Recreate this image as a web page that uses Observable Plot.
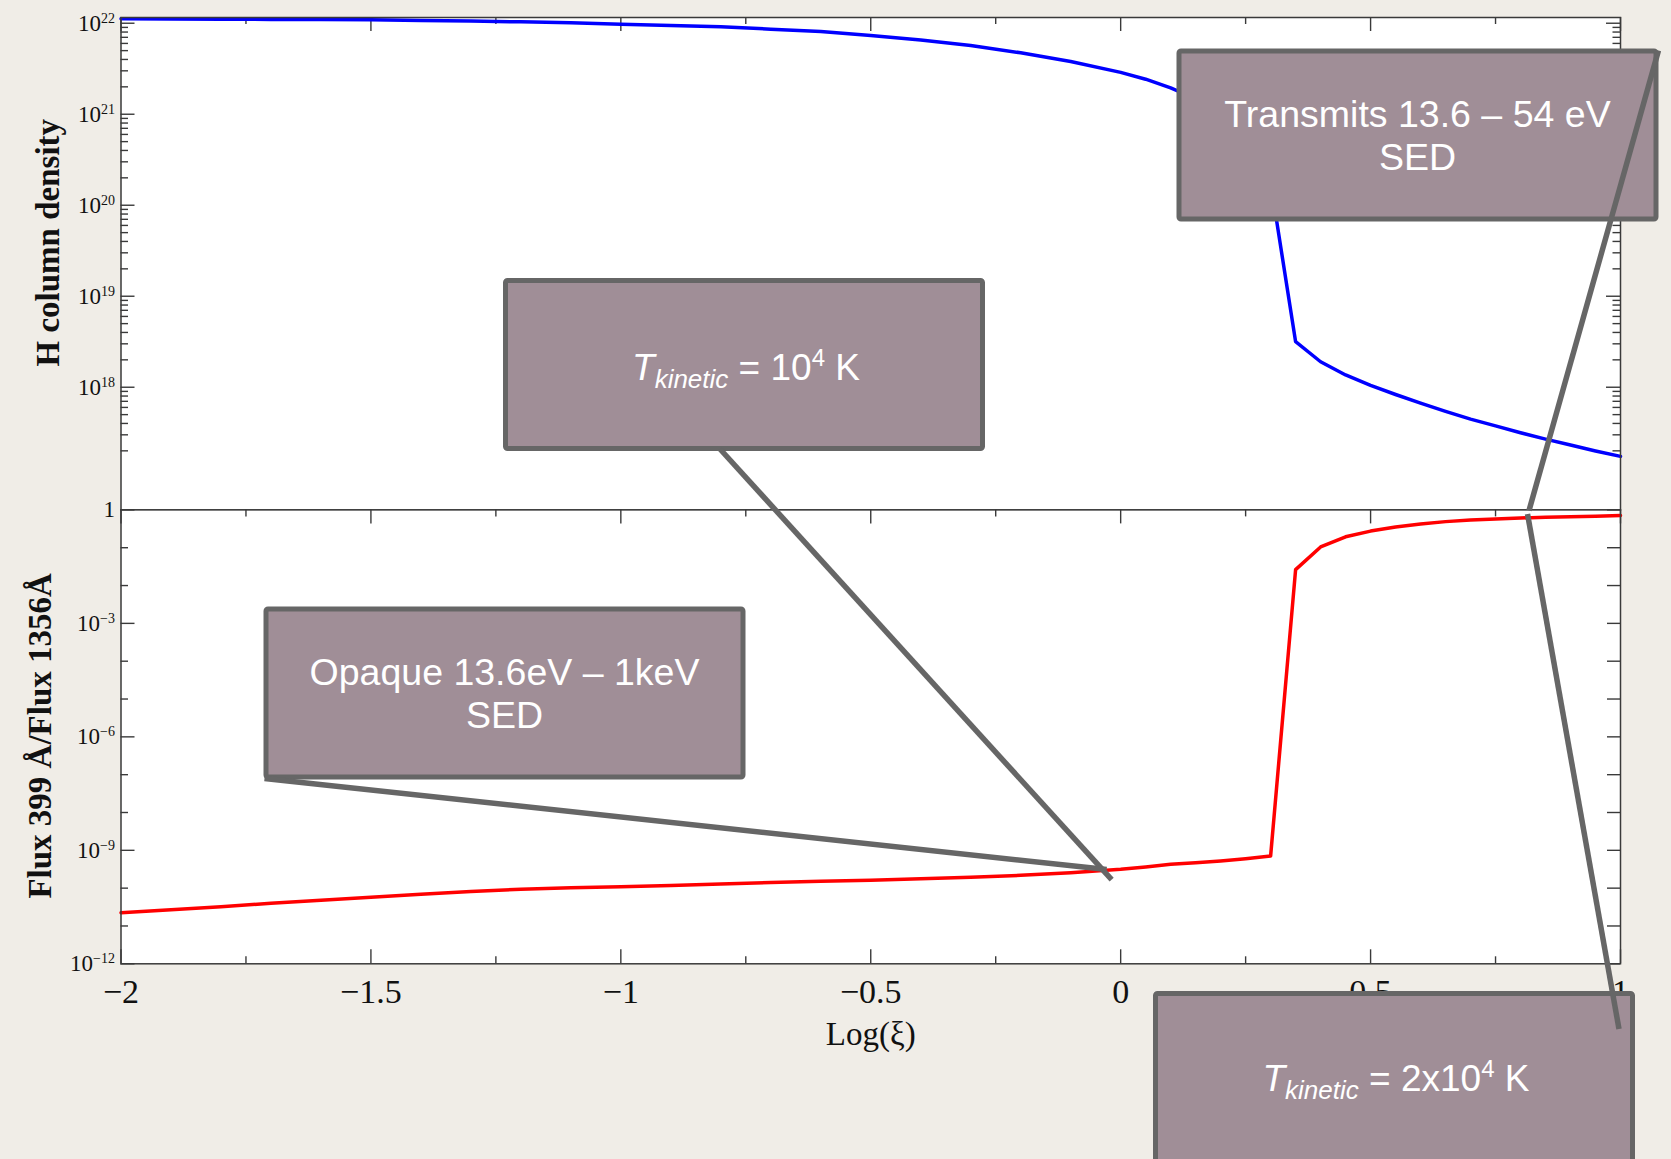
<!DOCTYPE html>
<html>
<head>
<meta charset="utf-8">
<script src="https://cdn.jsdelivr.net/npm/d3@7"></script>
<script src="https://cdn.jsdelivr.net/npm/@observablehq/plot@0.6"></script>
<style>
  html, body { margin: 0; padding: 0; background: #f0ede7; }
  #fig { position: relative; width: 1671px; height: 1159px; overflow: hidden; background: #f0ede7; }
  #fig > svg { position: absolute; left: 0; top: 0; max-width: none !important; }
</style>
</head>
<body>
<div id="fig"></div>
<script>
// ---------------- data ----------------
const logXi = [-2.0, -1.9, -1.8, -1.7, -1.6, -1.5, -1.4, -1.3, -1.2, -1.1, -1.0, -0.9, -0.8, -0.7, -0.6, -0.5, -0.4, -0.3, -0.2, -0.1,
  0.0, 0.05, 0.1, 0.15, 0.2, 0.25, 0.3, 0.35, 0.4, 0.45, 0.5, 0.55, 0.6, 0.65, 0.7, 0.75, 0.8, 0.85, 0.9, 0.95, 1.0];
// log10 of H column density (upper panel)
const logHColumn = [22.05, 22.047, 22.045, 22.042, 22.04, 22.037, 22.03, 22.025, 22.015, 22.005, 21.99, 21.975, 21.96, 21.935, 21.91, 21.865, 21.815, 21.755, 21.675, 21.58,
  21.46, 21.385, 21.29, 21.17, 21.0, 20.72, 20.25, 18.5, 18.28, 18.135, 18.02, 17.92, 17.825, 17.735, 17.65, 17.575, 17.5, 17.43, 17.365, 17.3, 17.24];
// log10 of Flux 399 Å / Flux 1356 Å (lower panel)
const logFluxRatio = [-10.65, -10.57, -10.49, -10.40, -10.32, -10.24, -10.16, -10.09, -10.03, -9.99, -9.96, -9.93, -9.89, -9.85, -9.82, -9.79, -9.75, -9.71, -9.66, -9.59,
  -9.50, -9.44, -9.37, -9.33, -9.28, -9.22, -9.15, -1.58, -0.98, -0.71, -0.56, -0.45, -0.37, -0.31, -0.27, -0.24, -0.215, -0.195, -0.18, -0.165, -0.15];

const xMajorTicks = [-2, -1.5, -1, -0.5, 0, 0.5, 1];
const xMinorTicks = [-1.75, -1.25, -0.75, -0.25, 0.25, 0.75];
const upperMajorTicks = [1e18, 1e19, 1e20, 1e21, 1e22];
const upperMinorTicks = [];
for (let e = 17; e <= 21; e++) for (let m = 2; m <= 9; m++) upperMinorTicks.push(m * 10 ** e);
const lowerLabelTicks = [1e-12, 1e-9, 1e-6, 1e-3, 1];
const lowerDecadeTicks = [1e-11, 1e-10, 1e-8, 1e-7, 1e-5, 1e-4, 1e-2, 1e-1];

const yLabelUpper = "H column density";
const yLabelLower = "Flux 399 Å/Flux 1356Å";
const xLabel = "Log(ξ)";

// callout anchors (data coordinates of the lower panel)
const anchorTk1 = {x: -0.017, y: 10 ** -9.79};
const anchorOpaque = {x: -0.027, y: 10 ** -9.52};
const anchorTransmits = {x: 0.818, y: 10 ** -0.03};
const anchorTk2 = {x: 0.815, y: 10 ** -0.12};

// ---------------- layout ----------------
const W = 1671, H = 1159;
const L = 120.5, R = 1620, T = 17, M = 509.4, B = 963.3;
const plotW = R - L, upperH = M - T, lowerH = B - M;
const serif = "'Liberation Serif', 'Times New Roman', Times, serif";
const sans = "'Liberation Sans', Arial, Helvetica, sans-serif";
const axisColor = "#3a3a3a";
const tickStyle = {stroke: axisColor, strokeWidth: 1.4};

const blueData = logXi.map((x, i) => ({x, y: 10 ** logHColumn[i]}));
const redData = logXi.map((x, i) => ({x, y: 10 ** logFluxRatio[i]}));

function powLabel(d) {
  const e = Math.round(Math.log10(d));
  return e === 0 ? "1" : "10^" + (e < 0 ? "\u2212" + (-e) : e);
}

const common = {
  width: W, height: H, marginLeft: L, marginRight: W - R,
  style: {background: "transparent", fontFamily: serif, overflow: "visible"}
};

const upper = Plot.plot({
  ...common,
  marginTop: T, marginBottom: H - M,
  x: {domain: [-2, 1], axis: null},
  y: {type: "log", domain: [10 ** 16.652, 10 ** 22.063], axis: null},
  marks: [
    Plot.frame({fill: "white", stroke: "none"}),
    Plot.ruleX(xMajorTicks, {insetBottom: upperH - 14, ...tickStyle}),
    Plot.ruleX(xMinorTicks, {insetBottom: upperH - 7, ...tickStyle}),
    Plot.ruleY(upperMajorTicks, {insetRight: plotW - 14, ...tickStyle}),
    Plot.ruleY(upperMinorTicks, {insetRight: plotW - 7.5, ...tickStyle}),
    Plot.ruleY(upperMajorTicks, {insetLeft: plotW - 14, ...tickStyle}),
    Plot.ruleY(upperMinorTicks, {insetLeft: plotW - 7.5, ...tickStyle}),
    Plot.line(blueData, {x: "x", y: "y", stroke: "#0000ff", strokeWidth: 3.5}),
    Plot.frame({stroke: axisColor, strokeWidth: 1.5}),
    Plot.text(upperMajorTicks, {y: d => d, frameAnchor: "left", dx: -6, textAnchor: "end", lineAnchor: "middle", text: powLabel, fontSize: 23, fill: "#111"}),
    Plot.text([yLabelUpper], {frameAnchor: "left", dx: -73, dy: -21, rotate: -90, textAnchor: "middle", lineAnchor: "middle", fontWeight: "bold", fontSize: 33, fill: "#111"})
  ]
});

const lower = Plot.plot({
  ...common,
  marginTop: M, marginBottom: H - B,
  x: {domain: [-2, 1], axis: null},
  y: {type: "log", domain: [1e-12, 1], axis: null},
  marks: [
    Plot.frame({fill: "white", stroke: "none"}),
    Plot.ruleX(xMajorTicks, {insetBottom: lowerH - 14, ...tickStyle}),
    Plot.ruleX(xMinorTicks, {insetBottom: lowerH - 7, ...tickStyle}),
    Plot.ruleX(xMajorTicks, {insetTop: lowerH - 14, ...tickStyle}),
    Plot.ruleX(xMinorTicks, {insetTop: lowerH - 7, ...tickStyle}),
    Plot.ruleY(lowerLabelTicks, {insetRight: plotW - 14, ...tickStyle}),
    Plot.ruleY(lowerDecadeTicks, {insetRight: plotW - 7.5, ...tickStyle}),
    Plot.ruleY(lowerLabelTicks.concat(lowerDecadeTicks), {insetLeft: plotW - 13, ...tickStyle}),
    Plot.line(redData, {x: "x", y: "y", stroke: "#ff0000", strokeWidth: 3.5}),
    Plot.frame({stroke: axisColor, strokeWidth: 1.5}),
    Plot.text(lowerLabelTicks, {y: d => d, frameAnchor: "left", dx: -6, textAnchor: "end", lineAnchor: "middle", text: powLabel, fontSize: 23, fill: "#111"}),
    Plot.text(xMajorTicks, {x: d => d, frameAnchor: "bottom", dy: 28, textAnchor: "middle", lineAnchor: "middle", text: d => d3.format("")(d), fontSize: 34, fill: "#111"}),
    Plot.text([xLabel], {frameAnchor: "bottom", dy: 71, textAnchor: "middle", lineAnchor: "middle", fontSize: 33, fill: "#111"}),
    Plot.text([yLabelLower], {frameAnchor: "left", dx: -80.5, dy: -1, rotate: -90, textAnchor: "middle", lineAnchor: "middle", fontWeight: "bold", fontSize: 33, fill: "#111"})
  ]
});

// superscript exponents in tick labels
function supify(svg) {
  svg.querySelectorAll("text").forEach(t => {
    const m = /^10\^(.+)$/.exec(t.textContent);
    if (!m) return;
    t.textContent = "";
    const ns = "http://www.w3.org/2000/svg";
    const a = document.createElementNS(ns, "tspan");
    a.textContent = "10";
    const b = document.createElementNS(ns, "tspan");
    b.textContent = m[1];
    b.setAttribute("dy", "-8");
    b.setAttribute("font-size", "14");
    t.appendChild(a); t.appendChild(b);
  });
}
supify(upper); supify(lower);

const fig = document.getElementById("fig");
fig.appendChild(upper);
fig.appendChild(lower);

// ---------------- annotation overlay ----------------
const xS = lower.scale("x"), yS = lower.scale("y");
const toPx = a => [xS.apply(a.x), yS.apply(a.y)];

const overlay = d3.create("svg").attr("width", W).attr("height", H).attr("viewBox", `0 0 ${W} ${H}`);
const boxW = 482, boxH = 173, border = 5;
const boxFill = "#a08e97", boxStroke = "#666666";

function box(left, top) {
  overlay.append("rect")
    .attr("x", left + border / 2).attr("y", top + border / 2)
    .attr("width", boxW - border).attr("height", boxH - border)
    .attr("rx", 2)
    .attr("fill", boxFill).attr("stroke", boxStroke).attr("stroke-width", border);
}
function plainText(cx, baseline, str) {
  overlay.append("text")
    .attr("x", cx).attr("y", baseline)
    .attr("text-anchor", "middle")
    .attr("font-family", sans).attr("font-size", 37.5).attr("fill", "white")
    .text(str);
}
function tkText(cx, baseline, base) {
  const t = overlay.append("text")
    .attr("x", cx).attr("y", baseline)
    .attr("text-anchor", "middle")
    .style("white-space", "pre")
    .attr("font-family", sans).attr("font-size", 37).attr("fill", "white");
  t.append("tspan").attr("font-style", "italic").text("T");
  t.append("tspan").attr("font-style", "italic").attr("font-size", 26).attr("dy", 8).text("kinetic");
  t.append("tspan").attr("dy", -8).text(" = " + base);
  t.append("tspan").attr("font-size", 24).attr("dy", -14).text("4");
  t.append("tspan").attr("dy", 14).text(" K");
}

const b1 = {left: 503, top: 278};
const b2 = {left: 263.5, top: 606.5};
const b3 = {left: 1176.5, top: 48.5};
const b4 = {left: 1153, top: 991};

box(b1.left, b1.top);
tkText(b1.left + boxW / 2 + 2, b1.top + 102, "10");

box(b2.left, b2.top);
plainText(b2.left + boxW / 2, b2.top + 78.5, "Opaque 13.6eV \u2013 1keV");
plainText(b2.left + boxW / 2, b2.top + 121.5, "SED");

box(b3.left, b3.top);
plainText(b3.left + boxW / 2, b3.top + 78, "Transmits 13.6 \u2013 54 eV");
plainText(b3.left + boxW / 2, b3.top + 121.5, "SED");

box(b4.left, b4.top);
tkText(b4.left + boxW / 2 + 2, b4.top + 100, "2x10");

function callout(p0, p1) {
  overlay.append("line")
    .attr("x1", p0[0]).attr("y1", p0[1]).attr("x2", p1[0]).attr("y2", p1[1])
    .attr("stroke", boxStroke).attr("stroke-width", 5.5).attr("stroke-linecap", "butt");
}
callout([b1.left + 217, b1.top + boxH - 2], toPx(anchorTk1));
callout([b2.left + 1, b2.top + boxH - 1], toPx(anchorOpaque));
callout([b3.left + boxW, b3.top + 2], toPx(anchorTransmits));
callout(toPx(anchorTk2), [b4.left + 466, b4.top + 38]);

fig.appendChild(overlay.node());
</script>
</body>
</html>
